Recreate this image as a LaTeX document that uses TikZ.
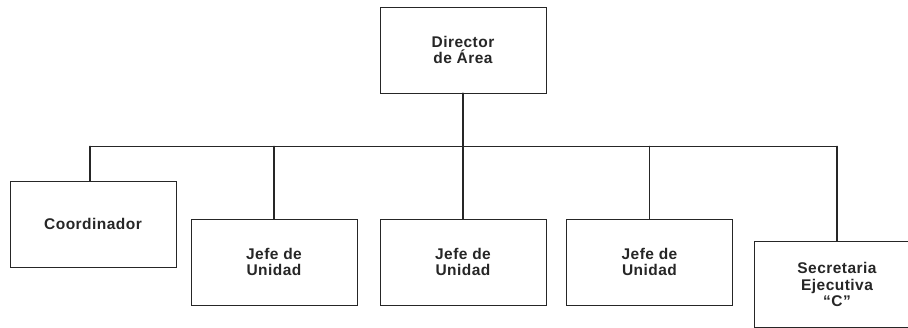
\documentclass[tikz,border=0pt]{standalone}
\usepackage{fontspec}
\setmainfont{Liberation Sans}
\newfontfamily\boxfont[LetterSpace=3]{Liberation Sans}
\begin{document}
\begin{tikzpicture}[x=1pt,y=-1pt,
  unitbox/.style={draw=black!85, line width=0.8pt, minimum width=166pt, minimum height=86pt,
    inner sep=0pt, align=center, font=\boxfont\fontsize{15.5}{16.8}\selectfont\bfseries, text=black!85},
  link/.style={draw=black!85, line width=1.8pt, line cap=round}]
\useasboundingbox (0,0) rectangle (908,328);
\clip (0,0) rectangle (908,328);

% boxes
\node[unitbox] (dir)   at (463,50)    {Director\\de Área};
\node[unitbox] (coord) at (93,224)    {Coordinador};
\node[unitbox] (jefeA) at (274,262)   {Jefe de\\Unidad};
\node[unitbox] (jefeB) at (463,262)   {Jefe de\\Unidad};
\node[unitbox] (jefeC) at (649.5,262) {Jefe de\\Unidad};
\node[unitbox] (secr)  at (837,284.5) {Secretaria\\Ejecutiva\\“C”};

% horizontal bus
\coordinate (barL) at (90,146.5);
\coordinate (barR) at (837,146.5);
\draw[link] (barL) -- (barR);

% drops
\draw[link] (dir.south) -- (dir.south |- barL);
\draw[link] (barL) -- (barL |- coord.north);
\draw[link] (jefeA.north |- barL) -- (jefeA.north);
\draw[link] (jefeB.north |- barL) -- (jefeB.north);
\draw[link] (jefeC.north |- barL) -- (jefeC.north);
\draw[link] (barR) -- (secr.north);
\end{tikzpicture}
\end{document}
